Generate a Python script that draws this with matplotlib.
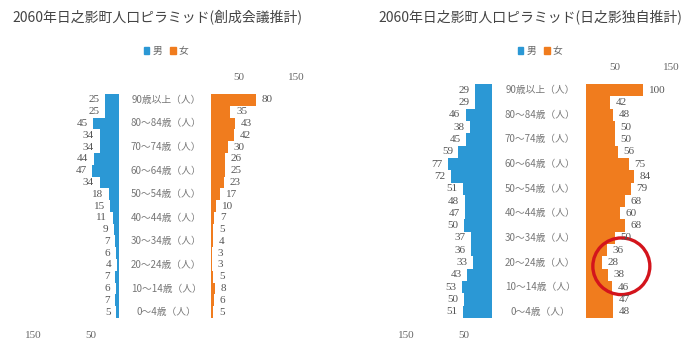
import matplotlib
matplotlib.use("Agg")
import matplotlib.pyplot as plt
from matplotlib.patches import Ellipse, Patch
from matplotlib.transforms import blended_transform_factory

plt.rcParams['font.family'] = ['Noto Sans CJK JP', 'DejaVu Sans']

# age groups, bottom (0-4) to top (90+)
age_labels = ['0～4歳（人）', '', '10～14歳（人）', '', '20～24歳（人）', '',
              '30～34歳（人）', '', '40～44歳（人）', '', '50～54歳（人）', '',
              '60～64歳（人）', '', '70～74歳（人）', '', '80～84歳（人）', '',
              '90歳以上（人）']

# 創成会議推計 (listed top row first)
sousei_male = [25, 25, 45, 34, 34, 44, 47, 34, 18, 15, 11, 9, 7, 6, 4, 7, 6, 7, 5]
sousei_female = [80, 35, 43, 42, 30, 26, 25, 23, 17, 10, 7, 5, 4, 3, 3, 5, 8, 6, 5]

# 日之影独自推計 (listed top row first)
jiko_male = [29, 29, 46, 38, 45, 59, 77, 72, 51, 48, 47, 50, 37, 36, 33, 43, 53, 50, 51]
jiko_female = [100, 42, 48, 50, 50, 56, 75, 84, 79, 68, 60, 68, 50, 36, 28, 38, 46, 47, 48]

titles = ['2060年日之影町人口ピラミッド(創成会議推計)',
          '2060年日之影町人口ピラミッド(日之影独自推計)']
tick_vals = [50, 150]

BLUE = '#2b98d5'
ORANGE = '#f07c1e'
TXT = '#555555'
NUM_FONT = ['Liberation Serif', 'Noto Sans CJK JP']

W, H = 696, 338
SCALE = 0.57   # px per person
XMAX = 190

fig = plt.figure(figsize=(W / 100, H / 100), dpi=100)


def px_axes(left, top, right, bottom):
    return fig.add_axes([left / W, 1 - bottom / H, (right - left) / W, (bottom - top) / H])


def pyramid(male, female, title, m0, f0, top, bottom, title_x, mid_x):
    male = male[::-1]
    female = female[::-1]
    rows = range(len(male))
    span = XMAX * SCALE
    ax_m = px_axes(m0 - span, top, m0, bottom)
    ax_f = px_axes(f0, top, f0 + span, bottom)

    ax_m.barh(rows, male, height=1.0, color=BLUE)
    ax_f.barh(rows, female, height=1.0, color=ORANGE)
    ax_m.set_xlim(XMAX, 0)
    ax_f.set_xlim(0, XMAX)

    for ax in (ax_m, ax_f):
        ax.set_ylim(-0.5, len(male) - 0.5)
        ax.set_yticks([])
        for s in ax.spines.values():
            s.set_visible(False)
        ax.set_xticks(tick_vals)
        ax.set_xticklabels([str(v) for v in tick_vals], family=NUM_FONT,
                           fontsize=8, color='#666666')
        ax.tick_params(axis='x', length=0)
    ax_m.tick_params(axis='x', pad=9)
    ax_f.xaxis.tick_top()
    ax_f.tick_params(axis='x', pad=9, length=0)

    for i, v in enumerate(male):
        ax_m.annotate(str(v), (v, i), xytext=(-4, 0), textcoords='offset points',
                      ha='right', va='center', fontsize=8, family=NUM_FONT,
                      color=TXT)
    for i, v in enumerate(female):
        ax_f.annotate(str(v), (v, i), xytext=(4, 0), textcoords='offset points',
                      ha='left', va='center', fontsize=8, family=NUM_FONT,
                      color=TXT)

    tr = blended_transform_factory(fig.transFigure, ax_f.transData)
    for i, lab in enumerate(age_labels):
        if lab:
            fig.text(mid_x / W, i, lab, transform=tr, ha='center', va='center',
                     fontsize=7, color='#777777')

    fig.text(title_x / W, 1 - 17 / H, title, ha='left', va='center',
             fontsize=10, color='#444444')

    handles = [Patch(color=BLUE), Patch(color=ORANGE)]
    fig.legend(handles, ['男', '女'], loc='center',
               bbox_to_anchor=(mid_x / W, 1 - 51 / H), ncol=2, frameon=False,
               handlelength=0.6, handleheight=0.6, handletextpad=0.3,
               columnspacing=0.8, prop={'size': 7}, labelcolor='#666666')
    return ax_m, ax_f


pyramid(sousei_male, sousei_female, titles[0], 119, 210.5, 94, 318, 12, 166)
ax_m2, ax_f2 = pyramid(jiko_male, jiko_female, titles[1], 492, 586, 84, 318, 378, 540)

# red ring around the 15-29 female values of the local estimate
ax_f2.add_patch(Ellipse((62, 3.7), width=100, height=4.6, fill=False,
                        edgecolor='#d3141c', linewidth=2.4, clip_on=False))

fig.savefig('out.png', dpi=100)
